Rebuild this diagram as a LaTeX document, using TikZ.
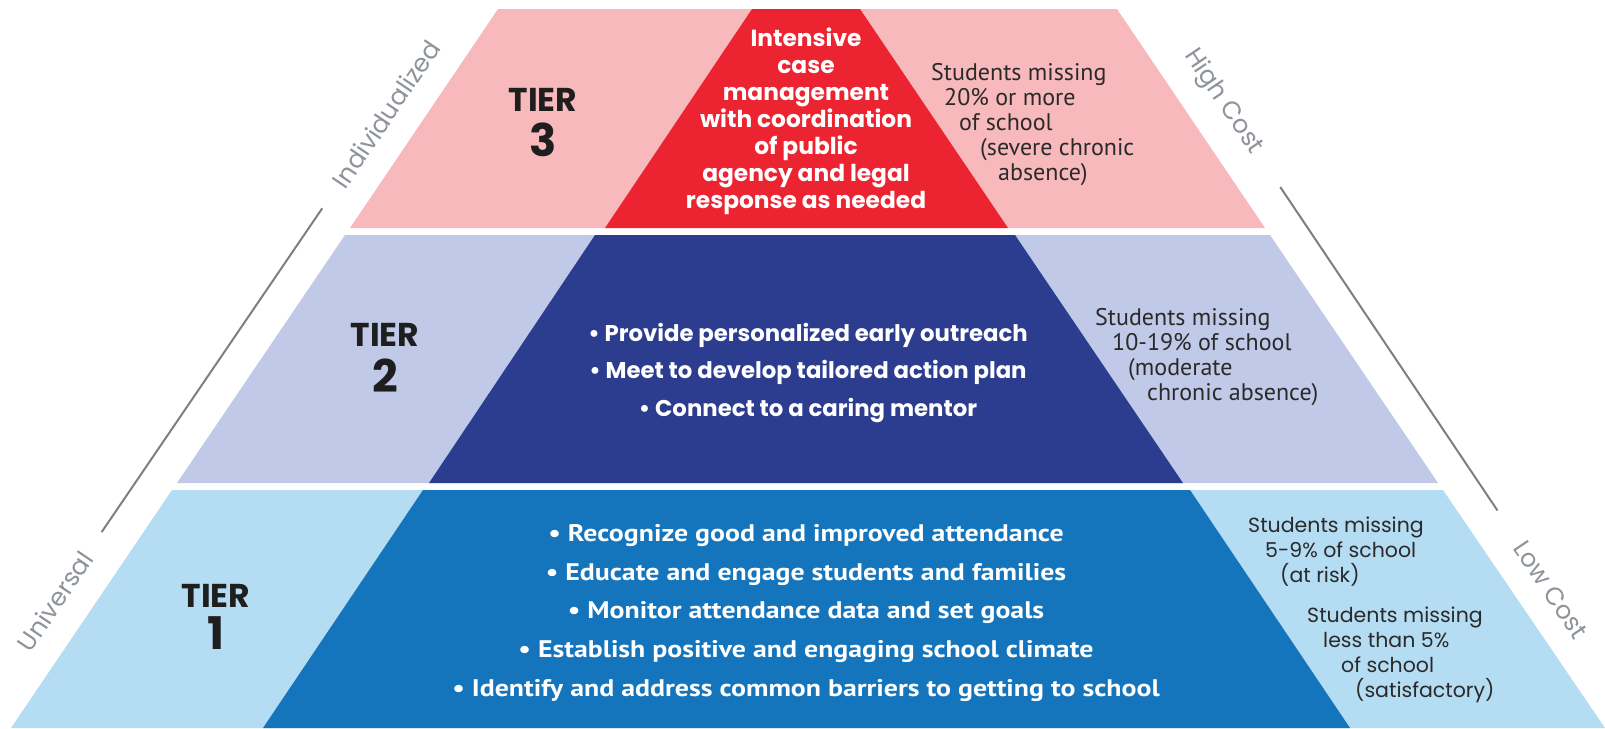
\documentclass[tikz,border=0pt]{standalone}
\usepackage{fontspec}
\setmainfont{Poppins}
\newfontfamily\notefont{PT Sans}
\newfontfamily\listfont[FakeStretch=1.16]{PT Sans}
\usetikzlibrary{positioning}

\definecolor{pinklight}{HTML}{F7B9BB}
\definecolor{redcore}{HTML}{EC2330}
\definecolor{lilaclight}{HTML}{C0C9E7}
\definecolor{navycore}{HTML}{2C3D8F}
\definecolor{skylight}{HTML}{B4DCF3}
\definecolor{bluecore}{HTML}{1475BC}
\definecolor{inkdark}{HTML}{1E1E1E}
\definecolor{notedark}{HTML}{2A2A2A}
\definecolor{sidegray}{HTML}{8E949A}
\definecolor{linegray}{HTML}{7F7F7F}

\tikzset{
  tiertag/.style={font=\bfseries\fontsize{33}{33}\selectfont, text=inkdark, inner sep=0pt},
  tiernum/.style={font=\bfseries\fontsize{45}{45}\selectfont, text=inkdark, inner sep=0pt},
  redtext/.style={font=\bfseries\fontsize{23.3}{27}\selectfont, text=white, align=center, inner sep=0pt, anchor=north},
  navylist/.style={font=\bfseries\fontsize{22.8}{37.5}\selectfont, text=white, align=center, inner sep=0pt, anchor=north},
  bluelist/.style={font=\listfont\bfseries\fontsize{24}{38.75}\selectfont, text=white, align=center, inner sep=0pt, anchor=north},
  note/.style={font=\notefont\fontsize{24}{25}\selectfont, text=notedark, align=left, anchor=north west, inner sep=0pt},
  widenote/.style={note, font=\fontsize{20.5}{25}\selectfont},
  sidelabel/.style={font=\fontsize{25}{25}\selectfont, text=sidegray, inner sep=0pt},
  sideline/.style={draw=linegray, line width=2pt},
}

\begin{document}
\begin{tikzpicture}[x=1pt,y=-1pt]
  \useasboundingbox (0,0) rectangle (1605,728);

  % tier 3
  \fill[pinklight] (498,9) -- (1117,9) -- (1265,228) -- (350,228) -- cycle;
  \fill[redcore] (752,9) -- (860,9) -- (1008,228) -- (605,228) -- cycle;
  % tier 2
  \fill[lilaclight] (345,235) -- (1270,235) -- (1438,483) -- (177,483) -- cycle;
  \fill[navycore] (595,235) -- (1015,235) -- (1183,483) -- (429,483) -- cycle;
  % tier 1
  \fill[skylight] (172,490) -- (1443,490) -- (1605,728) -- (11,728) -- cycle;
  \fill[bluecore] (423,490) -- (1190,490) -- (1350,728) -- (263,728) -- cycle;

  \node[tiertag] (t3tag) at (543,100) {TIER};
  \node[tiernum, below=11pt of t3tag] (t3num) {3};
  \node[tiertag] (t2tag) at (385,335) {TIER};
  \node[tiernum, below=12pt of t2tag] (t2num) {2};
  \node[tiertag] (t1tag) at (216,596) {TIER};
  \node[tiernum, below=9pt of t1tag] (t1num) {1};

  \node[redtext] (t3core) at (806,28) {Intensive\\case\\management\\with coordination\\of public\\agency and legal\\response as needed};
  \node[navylist] (t2core) at (808,323) {\textbullet{} Provide personalized early outreach\\\textbullet{} Meet to develop tailored action plan\\\textbullet{} Connect to a caring mentor};
  \node[bluelist] (t1core) at (806,524) {\textbullet{} Recognize good and improved attendance\\\textbullet{} Educate and engage students and families\\\textbullet{} Monitor attendance data and set goals\\\textbullet{} Establish positive and engaging school climate\\\textbullet{} Identify and address common barriers to getting to school};

  \node[note] (t3note) at (931,63) {Students missing\\\hspace*{13pt}20\% or more\\\hspace*{28pt}of school\\\hspace*{49pt}(severe chronic\\\hspace*{67pt}absence)};
  \node[note] (t2note) at (1095,308) {Students missing\\\hspace*{17pt}10-19\% of school\\\hspace*{33pt}(moderate\\\hspace*{52pt}chronic absence)};
  \node[widenote] (riskNote) at (1248,517) {Students missing\\\hspace*{17pt}5-9\% of school\\\hspace*{32pt}(at risk)};
  \node[widenote] (okNote) at (1307,607) {Students missing\\\hspace*{16pt}less than 5\%\\\hspace*{34pt}of school\\\hspace*{48pt}(satisfactory)};

  % side scales
  \node[sidelabel, rotate=56] (ind) at (386,114) {Individualized};
  \node[sidelabel, rotate=56] (uni) at (55,601) {Universal};
  \node[sidelabel, rotate=-56] (high) at (1223,102) {High Cost};
  \node[sidelabel, rotate=-56] (low) at (1551,590) {Low Cost};
  \draw[sideline, shorten <=28pt, shorten >=26pt] (ind.west) -- (uni.east);
  \draw[sideline, shorten <=42pt, shorten >=40pt] (high.east) -- (low.west);
\end{tikzpicture}
\end{document}
